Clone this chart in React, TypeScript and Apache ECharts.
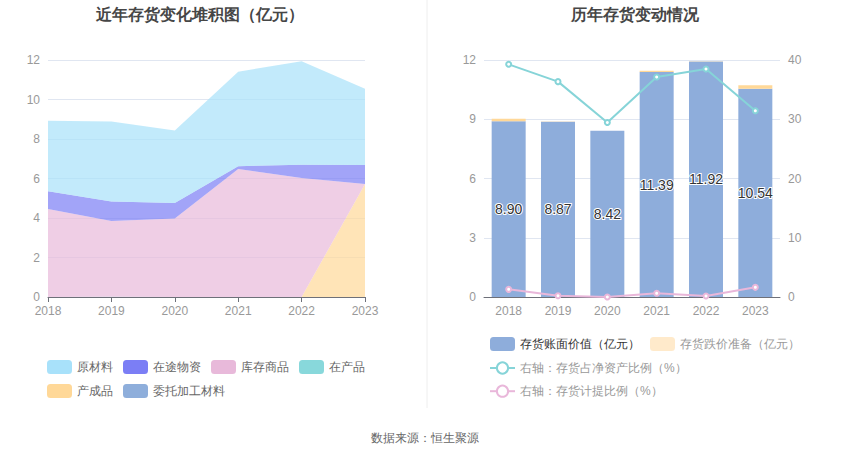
import React, { useEffect, useRef } from "react";
import * as echarts from "echarts";

const years = ["2018", "2019", "2020", "2021", "2022", "2023"];

// left stacked area (亿元)
const rawMaterial = [3.57, 4.04, 3.67, 4.79, 5.24, 3.86]; // 原材料
const inTransit = [0.89, 0.99, 0.79, 0.14, 0.67, 0.96]; // 在途物资
const goodsInStock = [4.46, 3.84, 3.97, 6.48, 6.03, 0]; // 库存商品
const wip = [0, 0.01, 0, 0, 0, 0]; // 在产品
const finished = [0, 0, 0, 0, 0, 5.72]; // 产成品
const consigned = [0, 0, 0, 0, 0, 0]; // 委托加工材料

// right chart
const bookValue = [8.9, 8.87, 8.42, 11.39, 11.92, 10.54]; // 存货账面价值
const reserve = [0.12, 0.02, 0, 0.07, 0.02, 0.18]; // 存货跌价准备
const netAssetRatio = [39.27, 36.35, 29.45, 37.14, 38.49, 31.42]; // 存货占净资产比例
const provisionRatio = [1.29, 0.22, 0, 0.62, 0.17, 1.63]; // 存货计提比例

const leftTicks = { min: 0, max: 12, interval: 2 };
const rightLeftTicks = { min: 0, max: 12, interval: 3 };
const rightRightTicks = { min: 0, max: 40, interval: 10 };

const C = {
  raw: "#a8e1fa",
  transit: "#7b7ef5",
  stock: "#e8b9da",
  wip: "#88d8db",
  finished: "#ffd898",
  consigned: "#8eaedb",
  bar: "#8eaddb",
  reserve: "#ffd898",
  teal: "#86d4d8",
  pink: "#e9b7da",
};

export default function App() {
  const ref = useRef<HTMLDivElement>(null);
  useEffect(() => {
    if (!ref.current) return;
    const chart = echarts.init(ref.current, null, { renderer: "svg" });
    const areaSeries = (name: string, data: number[], color: string) => ({
      name,
      type: "line",
      stack: "total",
      data,
      xAxisIndex: 0,
      yAxisIndex: 0,
      symbol: "none",
      lineStyle: { width: 0 },
      itemStyle: { color },
      areaStyle: { color, opacity: 0.7 },
    });
    const axisLabel = { color: "#999", fontSize: 12 };
    const splitLine = { lineStyle: { color: "#e0e6f1" } };
    chart.setOption({
      animation: false,
      title: [
        {
          text: "近年存货变化堆积图（亿元）",
          left: 195,
          top: 1,
          textAlign: "center",
          textStyle: { fontSize: 16, fontWeight: "bold", color: "#464646" },
        },
        {
          text: "历年存货变动情况",
          left: 630,
          top: 1,
          textAlign: "center",
          textStyle: { fontSize: 16, fontWeight: "bold", color: "#464646" },
        },
      ],
      legend: [
        {
          left: 42,
          top: 355,
          width: 330,
          icon: "roundRect",
          itemWidth: 25,
          itemHeight: 14,
          itemGap: 10,
          textStyle: { color: "#666", fontSize: 12 },
          data: ["原材料", "在途物资", "库存商品", "在产品", "产成品", "委托加工材料"],
        },
        {
          left: 484,
          top: 332,
          width: 330,
          itemWidth: 25,
          itemHeight: 14,
          itemGap: 10,
          textStyle: { color: "#999", fontSize: 12 },
          data: [
            { name: "存货账面价值（亿元）", icon: "roundRect", textStyle: { color: "#333" } },
            { name: "存货跌价准备（亿元）", icon: "roundRect", itemStyle: { color: "#ffeacb" } },
            "右轴：存货占净资产比例（%）",
            "右轴：存货计提比例（%）",
          ],
        },
      ],
      grid: [
        { left: 48, right: 485, top: 60, height: 237 },
        { left: 484, right: 70, top: 60, height: 237 },
      ],
      xAxis: [
        {
          type: "category",
          gridIndex: 0,
          data: years,
          boundaryGap: false,
          axisLabel,
          axisLine: { lineStyle: { color: "#6e7079" } },
          axisTick: { lineStyle: { color: "#6e7079" } },
        },
        {
          type: "category",
          gridIndex: 1,
          data: years,
          axisLabel,
          axisLine: { lineStyle: { color: "#6e7079" } },
          axisTick: { show: false },
        },
      ],
      yAxis: [
        {
          type: "value",
          gridIndex: 0,
          ...leftTicks,
          axisLabel,
          splitLine,
        },
        {
          type: "value",
          gridIndex: 1,
          ...rightLeftTicks,
          axisLabel,
          splitLine,
        },
        {
          type: "value",
          gridIndex: 1,
          position: "right",
          ...rightRightTicks,
          axisLabel,
          splitLine: { show: false },
        },
      ],
      series: [
        areaSeries("委托加工材料", consigned, C.consigned),
        areaSeries("产成品", finished, C.finished),
        areaSeries("在产品", wip, C.wip),
        areaSeries("库存商品", goodsInStock, C.stock),
        areaSeries("在途物资", inTransit, C.transit),
        areaSeries("原材料", rawMaterial, C.raw),
        {
          name: "存货账面价值（亿元）",
          type: "bar",
          stack: "bar",
          xAxisIndex: 1,
          yAxisIndex: 1,
          barWidth: 34,
          data: bookValue,
          itemStyle: { color: C.bar },
          label: {
            show: true,
            position: "inside",
            formatter: (p: any) => p.value.toFixed(2),
            color: "#333",
            fontSize: 14,
            textBorderColor: "#fff",
            textBorderWidth: 2,
          },
        },
        {
          name: "存货跌价准备（亿元）",
          type: "bar",
          stack: "bar",
          xAxisIndex: 1,
          yAxisIndex: 1,
          barWidth: 34,
          data: reserve,
          itemStyle: { color: C.reserve },
        },
        {
          name: "右轴：存货占净资产比例（%）",
          type: "line",
          xAxisIndex: 1,
          yAxisIndex: 2,
          data: netAssetRatio,
          symbol: "emptyCircle",
          symbolSize: 5,
          itemStyle: { color: C.teal },
          lineStyle: { color: C.teal, width: 2 },
        },
        {
          name: "右轴：存货计提比例（%）",
          type: "line",
          xAxisIndex: 1,
          yAxisIndex: 2,
          data: provisionRatio,
          symbol: "emptyCircle",
          symbolSize: 5,
          itemStyle: { color: C.pink },
          lineStyle: { color: C.pink, width: 2 },
        },
      ],
      graphic: [
        {
          type: "line",
          shape: { x1: 427, y1: 0, x2: 427, y2: 408 },
          style: { stroke: "#eeeeee", lineWidth: 1 },
        },
        {
          type: "text",
          left: "center",
          top: 432,
          style: { text: "数据来源：恒生聚源", fill: "#666", fontSize: 12 },
        },
      ],
    });
    return () => chart.dispose();
  }, []);
  return (
    <div
      ref={ref}
      style={{ position: "absolute", left: 0, top: 0, width: 850, height: 459 }}
    />
  );
}
